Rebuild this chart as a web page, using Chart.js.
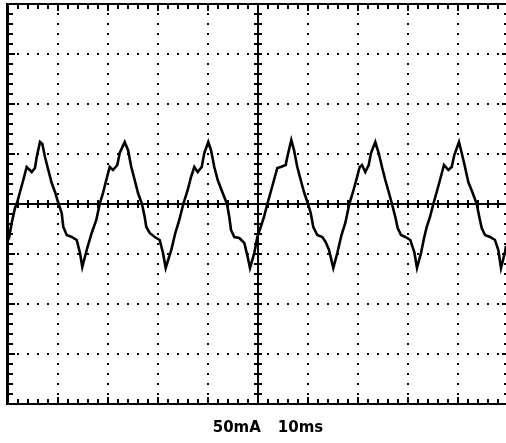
<!DOCTYPE html>
<html><head><meta charset="utf-8">
<script src="https://cdn.jsdelivr.net/npm/chart.js@4.4.1/dist/chart.umd.min.js"></script>
<style>
html,body{margin:0;padding:0;background:#fff;overflow:hidden;width:506px;height:443px;}
#wrap{position:absolute;left:0;top:0;width:512px;height:443px;}
#cap{position:absolute;left:0;top:418px;width:536px;text-align:center;font:bold 15px "DejaVu Sans",sans-serif;color:#000;white-space:pre;line-height:18px;}
</style></head><body>
<div id="wrap"><canvas id="c" width="512" height="443"></canvas></div>
<div id="cap"><span id="capA"></span><span id="capB" style="margin-left:17px"></span></div>
<script>
// ---- data (time in ms, current in mA) ----
const timeMs = [0,0.2,0.74,1.4,1.74,2.4,3.06,3.74,4.74,5.4,5.74,6.4,6.86,7.4,8.06,8.74,9.4,10.06,10.74,11.06,11.74,12.74,13.74,14.4,14.86,15.74,16.74,17.66,18.34,
19,19.66,20.34,21,21.86,22.34,23.34,24,24.66,25.34,26,26.8,27.34,27.66,28.34,29.34,30.34,31,31.54,32.66,33.46,34.26,35.06,
35.94,36.6,37.26,37.94,38.74,39.26,40.06,40.6,41.26,41.94,42.94,43.8,44.26,44.6,45.26,46.26,47.26,47.94,48.4,49.26,49.86,50.54,51.2,51.86,
52.54,53.2,53.86,54.54,55.54,55.86,56.66,57.2,57.86,58.54,59.2,60,60.54,61.06,61.86,62.86,63.54,64.2,65.06,65.86,66.7,67.46,68.26,
69,69.66,70.34,70.8,71.46,72.14,72.6,73.46,74.14,74.8,75.46,76.14,76.8,77.46,77.94,78.6,79.46,80.46,81.26,81.8,82.6,83.26,83.74,84.4,85.06,
85.74,86.4,87.2,88.06,88.74,89.26,90.2,90.74,91.4,92.06,92.94,93.74,94.26,94.74,95.4,96.4,97.4,98.06,98.6,99.4,99.6];
const currentMA = [-36,-34,-19,-4,0,12,24,37,32,36,47,62,60,47,34,21,12,1,-9,-23,-31,-33,-36,-49,-63,-46,-29,-16,0,
11,24,37,34,39,51,62,54,37,24,11,0,-13,-23,-29,-33,-36,-49,-64,-46,-29,-16,0,
14,27,37,32,37,51,62,54,37,24,11,0,-13,-26,-33,-34,-39,-53,-64,-49,-33,-23,-13,0,
12,24,36,37,39,47,64,54,37,24,12,0,-9,-23,-31,-33,-38,-46,-64,-49,-31,-19,0,
12,24,37,39,32,39,51,62,51,37,24,12,0,-13,-24,-31,-33,-36,-48,-64,-49,-33,-23,-13,0,
12,24,39,34,37,49,62,51,37,22,11,0,-13,-24,-31,-33,-36,-46,-64,-48,-42];
// ---- axes ----
const xMajorTicks = [0,10,20,30,40,50,60,70,80,90,100];          // ms (10 ms / div)
const yMajorTicks = [-200,-150,-100,-50,0,50,100,150,200];       // mA (50 mA / div)
const xMinorStep = 2;   // ms between small ticks
const yMinorStep = 10;  // mA between small ticks
const captionScale = "50mA";
const captionTime = "10ms";

document.getElementById('capA').textContent = captionScale;
document.getElementById('capB').textContent = captionTime;

const framePlugin = {
  id:'scopeFrame',
  afterDraw(chart){
    const {ctx, scales:{x,y}} = chart;
    const L=x.getPixelForValue(xMajorTicks[0]), R=x.getPixelForValue(xMajorTicks[xMajorTicks.length-1]);
    const T=y.getPixelForValue(yMajorTicks[yMajorTicks.length-1]), B=y.getPixelForValue(yMajorTicks[0]);
    const CX=x.getPixelForValue(50), CY=y.getPixelForValue(0);
    ctx.save();
    ctx.strokeStyle='#000'; ctx.lineCap='butt';
    const line=(x1,y1,x2,y2,w)=>{ctx.lineWidth=w;ctx.beginPath();ctx.moveTo(x1,y1);ctx.lineTo(x2,y2);ctx.stroke();};
    // frame
    line(L-1,T,R+1,T,2); line(L-1,B,R+1,B,2);
    line(L-0.5,T-1,L-0.5,B+1,3); line(R,T-1,R,B+1,2);
    // center axes
    line(L,CY,R,CY,2); line(CX,T,CX,B,2);
    // small ticks along x
    for(let v=xMajorTicks[0]; v<=xMajorTicks[xMajorTicks.length-1]; v+=xMinorStep){
      const px=Math.round(x.getPixelForValue(v));
      const major = (v%10===0);
      const len = major?7:5;
      line(px,T,px,T+len,2);
      line(px,B,px,B-len,2);
      line(px,CY-4,px,CY+4,2);
    }
    for(let v=yMajorTicks[0]; v<=yMajorTicks[yMajorTicks.length-1]; v+=yMinorStep){
      const py=Math.round(y.getPixelForValue(v));
      const major = (v%50===0);
      const len = major?7:5;
      line(L,py,L+len,py,2);
      line(R,py,R-(major?6:4),py,2);
      line(CX-4,py,CX+4,py,2);
    }
    ctx.restore();
  }
};

new Chart(document.getElementById('c').getContext('2d'), {
  type:'scatter',
  data:{datasets:[{
    data: timeMs.map((t,i)=>({x:t,y:currentMA[i]})),
    showLine:true, borderColor:'#000', borderWidth:2.6, pointRadius:0, tension:0, fill:false
  }]},
  options:{
    responsive:false, animation:false, devicePixelRatio:1,
    layout:{autoPadding:false, padding:{left:8,top:4,right:4,bottom:39}},
    plugins:{legend:{display:false},tooltip:{enabled:false},title:{display:false}},
    scales:{
      x:{type:'linear', min:0, max:100,
         afterBuildTicks:s=>{s.ticks = xMajorTicks.map(v=>({value:v}));},
         ticks:{display:false},
         grid:{color:'#000', lineWidth:2, drawTicks:false},
         border:{display:false, dash:[2,8], dashOffset:1}},
      y:{type:'linear', min:-200, max:200,
         afterBuildTicks:s=>{s.ticks = yMajorTicks.map(v=>({value:v}));},
         ticks:{display:false},
         grid:{color:'#000', lineWidth:2, drawTicks:false},
         border:{display:false, dash:[2,8], dashOffset:1}}
    }
  },
  plugins:[framePlugin]
});
</script>
</body></html>
